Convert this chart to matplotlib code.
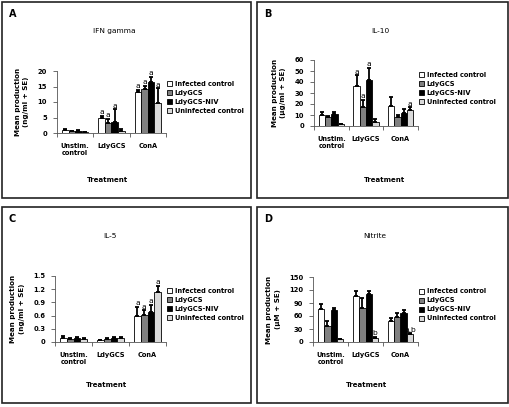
import numpy as np
import matplotlib
matplotlib.use('Agg')
import matplotlib.pyplot as plt
from matplotlib.patches import Rectangle, Patch

plt.rcParams['font.family'] = ['DejaVu Sans']

categories = ['Unstim.\ncontrol', 'LdyGCS', 'ConA']
series = ['Infected control', 'LdyGCS', 'LdyGCS-NIV', 'Uninfected control']
colors = ['#ffffff', '#808080', '#000000', '#d9d9d9']

# values per category (rows) and series (columns)
ifn_mean = [[1.0, 0.5, 0.6, 0.2], [4.9, 3.2, 3.7, 0.5], [13.2, 14.2, 16.5, 9.7]]
ifn_err = [[0.3, 0.3, 0.3, 0.1], [0.6, 1.3, 4.0, 0.8], [0.8, 1.0, 1.6, 4.7]]
ifn_sig = [['', '', '', ''], ['a', 'a', 'a', ''], ['a', 'a', 'a', 'a']]

il10_mean = [[10, 8, 11, 1.5], [36, 17, 42, 4], [18.5, 8.5, 11.5, 15]]
il10_err = [[3, 1.5, 2, 0.5], [10, 6.5, 11, 2], [7.5, 1.5, 4, 2]]
il10_sig = [['', '', '', ''], ['a', 'a', 'a', ''], ['', '', '', 'a']]

il5_mean = [[0.10, 0.07, 0.08, 0.07], [0.04, 0.06, 0.08, 0.10], [0.58, 0.61, 0.68, 1.13]]
il5_err = [[0.03, 0.03, 0.03, 0.02], [0.01, 0.02, 0.03, 0.02], [0.22, 0.11, 0.17, 0.15]]
il5_sig = [['', '', '', ''], ['', '', '', ''], ['a', 'a', 'a', 'a']]

no_mean = [[76, 38, 74, 7], [106, 79, 110, 10], [48, 58, 66, 18]]
no_err = [[12, 11, 4, 1], [12, 22, 7, 2], [8, 8, 9, 2]]
no_sig = [['', '', '', ''], ['', '', '', 'b'], ['', '', '', 'a,b']]

W, H = 510, 407
fig = plt.figure(figsize=(W / 100, H / 100), dpi=100)


def fx(px):
    return px / W


def fy(py):
    return 1 - py / H


def panel(box, ax_px, letter, title, title_x, treat_x, ylabel, mean, err, sig,
          ymax, step, fmt):
    x0, y0, x1, y1 = box
    fig.patches.append(Rectangle((fx(x0), fy(y1)), fx(x1 - x0), (y1 - y0) / H,
                                 transform=fig.transFigure, fill=False,
                                 edgecolor='#222222', linewidth=1.2))
    fig.text(fx(x0 + 7), fy(y0 + 12), letter, fontsize=7, fontweight='bold',
             va='center', ha='left')
    l, r, b, t = ax_px
    ax = fig.add_axes([fx(l), fy(b), fx(r - l), (b - t) / H])
    mean = np.array(mean)
    err = np.array(err)
    w = 1 / 5.5
    x = np.arange(len(categories))
    for j, name in enumerate(series):
        xs = x + (j - 1.5) * w
        ax.bar(xs, mean[:, j], width=w, color=colors[j], edgecolor='black',
               linewidth=0.6, label=name, zorder=2)
        ax.errorbar(xs, mean[:, j], yerr=[np.zeros(len(x)), err[:, j]],
                    fmt='none', ecolor='black', elinewidth=1.3, capsize=1.5,
                    capthick=1.3, zorder=3)
        for i in range(len(x)):
            if sig[i][j]:
                ax.text(xs[i], mean[i, j] + err[i, j] + ymax * 0.01, sig[i][j],
                        ha='center', va='bottom', fontsize=5.4)
    ax.set_xlim(-0.5, 2.5)
    ax.set_ylim(0, ymax)
    ax.set_yticks(np.arange(0, ymax + step / 2, step))
    ax.set_yticklabels([fmt(v) for v in np.arange(0, ymax + step / 2, step)])
    ax.set_xticks(x)
    ax.set_xticklabels(categories, linespacing=1.25)
    ax.set_xticks([-0.5, 0.5, 1.5, 2.5], minor=True)
    ax.tick_params(axis='x', which='major', length=0, pad=7, labelsize=4.8)
    ax.tick_params(axis='x', which='minor', length=3, width=0.6, color='#555555')
    ax.tick_params(axis='y', length=3, width=0.6, color='#555555', labelsize=4.9, pad=4)
    for lab in ax.get_xticklabels() + ax.get_yticklabels():
        lab.set_fontweight('bold')
    for s in ['top', 'right']:
        ax.spines[s].set_visible(False)
    for s in ['left', 'bottom']:
        ax.spines[s].set_color('#555555')
        ax.spines[s].set_linewidth(0.6)
    ax.set_ylabel(ylabel, fontsize=5.1, fontweight='bold', labelpad=6,
                  linespacing=1.5)
    fig.text(fx(title_x), fy(y0 + 29), title, fontsize=5.3,
             ha='center', va='center')
    fig.text(fx(treat_x), fy(y0 + 178), 'Treatment', fontsize=5,
             fontweight='bold', ha='center', va='center')
    handles = [Patch(facecolor=c, edgecolor='black', linewidth=0.6) for c in colors]
    leg = ax.legend(handles, series, loc='center left',
                    bbox_to_anchor=((r + 1 - l) / (r - l), 0.57),
                    frameon=False, fontsize=4.8, handlelength=0.8, handleheight=0.8,
                    handletextpad=0.35, labelspacing=0.45, borderaxespad=0,
                    borderpad=0)
    for txt in leg.get_texts():
        txt.set_fontweight('bold')
    return ax


panel((2, 2, 251, 198), (57, 166, 133, 71), 'A', 'IFN gamma', 114, 108,
      'Mean production\n(ng/ml + SE)', ifn_mean, ifn_err, ifn_sig, 20, 5,
      lambda v: '%d' % v)
panel((257, 2, 508, 198), (314, 418, 126, 60), 'B', 'IL-10', 380, 385,
      'Mean production\n(\u00b5g/ml + SE)', il10_mean, il10_err, il10_sig, 60, 10,
      lambda v: '%d' % v)
panel((2, 207, 251, 403), (55, 166, 342, 276), 'C', 'IL-5', 110, 107,
      'Mean production\n(ng/ml + SE)', il5_mean, il5_err, il5_sig, 1.5, 0.3,
      lambda v: '0' if v == 0 else '%.1f' % v)
panel((257, 207, 508, 403), (313, 418, 342, 277), 'D', 'Nitrite', 375, 367,
      'Mean production\n(\u00b5M + SE)', no_mean, no_err, no_sig, 150, 30,
      lambda v: '%d' % v)

fig.savefig('out.png', dpi=100)
